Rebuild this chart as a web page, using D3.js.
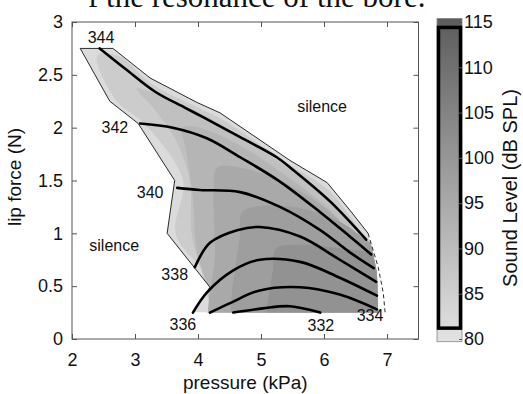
<!DOCTYPE html>
<html><head><meta charset="utf-8">
<script src="https://cdn.jsdelivr.net/npm/d3@7"></script>
<style>
html,body{margin:0;padding:0;background:#fff;}
svg{display:block;font-family:"Liberation Sans",Arial,sans-serif;}
</style></head><body>
<svg id="chart" width="523" height="394"></svg>
<script>
// ---------------- data ----------------
const xTicks = [2, 3, 4, 5, 6, 7];
const yTicks = [0, 0.5, 1, 1.5, 2, 2.5, 3];
const cbTicks = [80, 85, 90, 95, 100, 105, 110, 115];

// playable region (pressure kPa, lip force N)
const region = [[2.13,2.75],[2.65,2.75],[3.24,2.47],[3.98,2.24],[4.35,2.14],[5.46,1.69],[6.05,1.48],[6.41,1.22],[6.70,1.00],[6.76,0.87],[6.84,0.63],[6.86,0.25],[3.92,0.25],[4.19,0.49],[3.51,1.00],[3.63,1.50],[3.05,2.04],[2.60,2.25]];
const outlineSolid = [[3.92,0.25],[4.19,0.49],[3.51,1.00],[3.63,1.50],[3.05,2.04],[2.60,2.25],[2.13,2.75],[2.65,2.75],[3.24,2.47],[3.98,2.24],[4.35,2.14],[5.46,1.69],[6.05,1.48],[6.41,1.22],[6.70,1.00]];
const outlineDashed = [[6.70,1.00],[6.78,0.84],[6.86,0.68],[6.94,0.44],[6.97,0.25]];

// sound level bands (dB SPL)
const bandLevels = [82, 86, 89, 92, 95, 98, 101];
const band86 = [[2.40,2.68],[2.73,2.68],[3.27,2.41],[4.00,2.19],[4.38,2.08],[5.48,1.64],[6.05,1.42],[6.40,1.17],[6.63,0.96],[6.75,0.75],[6.75,0.09],[4.06,0.09],[4.29,0.46],[3.65,0.99],[3.76,1.50],[3.16,2.03],[2.70,2.26]];
const band89 = [[3.03,2.37],[3.24,2.34],[3.63,2.25],[4.19,2.09],[4.83,1.86],[5.46,1.60],[6.10,1.30],[6.54,0.98],[6.81,0.73],[7.13,0.73],[7.13,-0.06],[4.17,-0.06],[4.17,0.37],[3.90,0.99],[3.87,1.50],[3.63,1.90],[3.27,2.20],[3.08,2.32]];
const band92 = [[3.75,2.00],[4.03,2.00],[4.67,1.83],[5.46,1.52],[6.10,1.22],[6.54,0.90],[6.83,0.61],[7.13,0.61],[7.13,-0.06],[4.22,-0.06],[4.22,0.37],[3.98,0.84],[3.92,1.32],[3.81,1.79]];
const band95 = [[4.30,1.62],[4.59,1.63],[5.30,1.50],[6.10,1.20],[6.57,0.86],[6.86,0.54],[7.13,0.54],[7.13,-0.06],[4.29,-0.06],[4.27,0.84],[4.25,1.41]];
const band98 = [[4.70,1.20],[4.98,1.26],[5.62,1.24],[6.25,1.11],[6.81,0.89],[7.13,0.84],[7.13,-0.06],[4.67,-0.06],[4.67,1.01]];
const band101 = [[5.24,0.86],[5.54,0.89],[6.10,0.87],[6.73,0.82],[7.13,0.79],[7.13,-0.06],[5.19,-0.06],[5.19,0.67]];
const bands = [region, band86, band89, band92, band95, band98, band101];

// frequency contours (Hz)
const contourLevels = [344, 342, 340, 338, 336, 334, 332];
const c344 = [[2.44,2.75],[2.84,2.56],[3.32,2.34],[3.79,2.19],[4.11,2.09],[4.67,1.91],[5.25,1.72],[5.51,1.60],[6.10,1.30],[6.67,0.94]];
const c342 = [[3.08,2.04],[3.60,2.00],[4.14,1.90],[4.67,1.72],[5.30,1.49],[5.94,1.20],[6.41,0.97],[6.75,0.80]];
const c340 = [[3.67,1.43],[4.03,1.41],[4.67,1.39],[5.30,1.25],[5.94,1.03],[6.41,0.82],[6.79,0.67]];
const c338 = [[3.95,0.68],[4.19,0.91],[4.62,1.03],[4.98,1.06],[5.62,0.97],[6.25,0.75],[6.83,0.54]];
const c336 = [[3.92,0.25],[4.14,0.44],[4.56,0.65],[4.98,0.75],[5.62,0.73],[6.25,0.58],[6.84,0.41]];
const c334 = [[4.19,0.25],[4.51,0.34],[4.98,0.46],[5.62,0.49],[6.25,0.42],[6.84,0.28]];
const c332 = [[4.56,0.25],[5.03,0.29],[5.46,0.31],[5.94,0.25]];
const contours = [c344, c342, c340, c338, c336, c334, c332];

// label anchors
const contourLabels = [[2.46,2.80,"344"],[2.68,1.95,"342"],[3.24,1.33,"340"],[3.63,0.56,"338"],[3.76,0.085,"336"],[5.95,0.076,"332"],[6.73,0.17,"334"]];
const regionLabels = [[5.97,2.15,"silence"],[2.67,0.83,"silence"]];

// ---------------- drawing ----------------
const svg = d3.select("#chart");
const x = d3.scaleLinear([2, 7.5], [72, 418.5]);
const y = d3.scaleLinear([0, 3], [339, 22]);
const cb = d3.scaleLinear([80, 115], [339, 22]);
const gray = d3.scaleLinear([80, 115], ["#e3e3e3", "#5c5c5c"]);

// caption remnant at top (cropped in the source figure)
svg.append("text").attr("x", 88).attr("y", 7)
  .style("font-family", '"Liberation Serif", "Times New Roman", serif')
  .style("font-size", "31px").attr("fill", "#111")
  .text("f the resonance of the bore.");

const defs = svg.append("defs");
defs.append("clipPath").attr("id", "regionClip")
  .append("path").attr("d", d3.line().x(d => x(d[0])).y(d => y(d[1]))(region) + "Z");

const g = svg.append("g");
const shade = g.append("g").attr("clip-path", "url(#regionClip)");
bands.forEach((b, i) => {
  const gen = i === 0 ? d3.line().x(d => x(d[0])).y(d => y(d[1])).curve(d3.curveLinearClosed)
                      : d3.line().x(d => x(d[0])).y(d => y(d[1])).curve(d3.curveCatmullRomClosed.alpha(0.5));
  shade.append("path").attr("d", gen(b)).attr("fill", gray(bandLevels[i])).attr("stroke", "none");
});

// outline
const lin = d3.line().x(d => x(d[0])).y(d => y(d[1]));
g.append("path").attr("d", lin(outlineSolid)).attr("fill", "none").attr("stroke", "#111").attr("stroke-width", 0.9);
g.append("path").attr("d", lin(outlineDashed)).attr("fill", "none").attr("stroke", "#111").attr("stroke-width", 0.9).attr("stroke-dasharray", "4,3");

// contours
const cline = d3.line().x(d => x(d[0])).y(d => y(d[1])).curve(d3.curveCatmullRom.alpha(0.5));
g.selectAll("path.contour").data(contours).join("path").attr("class", "contour")
  .attr("d", d => cline(d)).attr("fill", "none").attr("stroke", "#000").attr("stroke-width", 2.6)
  .attr("stroke-linecap", "round");

// labels
g.selectAll("text.clab").data(contourLabels).join("text").attr("class", "clab")
  .attr("x", d => x(d[0])).attr("y", d => y(d[1])).attr("text-anchor", "middle")
  .style("font-size", "16px").attr("fill", "#111").text(d => d[2]);
g.selectAll("text.rlab").data(regionLabels).join("text").attr("class", "rlab")
  .attr("x", d => x(d[0])).attr("y", d => y(d[1])).attr("text-anchor", "middle")
  .style("font-size", "16px").attr("fill", "#111").text(d => d[2]);

// axes
const axCol = "#555";
const axBottom = svg.append("g").attr("transform", "translate(0,339)")
  .call(d3.axisBottom(x).tickValues(xTicks).tickFormat(d3.format("d")).tickSizeInner(-5).tickSizeOuter(0).tickPadding(14));
const axLeft = svg.append("g").attr("transform", "translate(72,0)")
  .call(d3.axisLeft(y).tickValues(yTicks).tickFormat(d => d).tickSizeInner(-5).tickSizeOuter(0).tickPadding(9));
const axTop = svg.append("g").attr("transform", "translate(0,22)")
  .call(d3.axisTop(x).tickValues(xTicks).tickFormat("").tickSizeInner(-5).tickSizeOuter(0));
const axRight = svg.append("g").attr("transform", "translate(418.5,0)")
  .call(d3.axisRight(y).tickValues(yTicks).tickFormat("").tickSizeInner(-5).tickSizeOuter(0));
[axBottom, axLeft, axTop, axRight].forEach(a => {
  a.select(".domain").remove();
  a.selectAll("line").attr("stroke", axCol);
  a.selectAll("text").style("font-size", "18px").style("font-family", '"Liberation Sans", Arial, sans-serif').attr("fill", "#111");
});
svg.append("rect").attr("x", x(2)).attr("y", y(3)).attr("width", x(7.5) - x(2)).attr("height", y(0) - y(3))
  .attr("fill", "none").attr("stroke", axCol).attr("stroke-width", 1);

svg.append("text").attr("x", (x(2) + x(7.5)) / 2).attr("y", 389).attr("text-anchor", "middle")
  .style("font-size", "19px").attr("fill", "#111").text("pressure (kPa)");
svg.append("text").attr("transform", "translate(21,177) rotate(-90)").attr("text-anchor", "middle")
  .style("font-size", "19px").attr("fill", "#111").text("lip force (N)");

// colorbar
const grad = defs.append("linearGradient").attr("id", "cbGrad").attr("x1", 0).attr("x2", 0).attr("y1", 1).attr("y2", 0);
grad.append("stop").attr("offset", "0%").attr("stop-color", gray(80));
grad.append("stop").attr("offset", "100%").attr("stop-color", gray(115));
const cbX = 437, cbW = 25;
svg.append("rect").attr("x", cbX).attr("y", cb(115.4)).attr("width", cbW).attr("height", cb(79.7) - cb(115.4))
  .attr("fill", "url(#cbGrad)").attr("stroke", "#888").attr("stroke-width", 0.8);
svg.append("rect").attr("x", cbX + 1.5).attr("y", cb(114.4)).attr("width", cbW - 3).attr("height", cb(81.2) - cb(114.4))
  .attr("fill", "none").attr("stroke", "#000").attr("stroke-width", 3.5);
const cbAxis = svg.append("g").attr("transform", `translate(${cbX + cbW},0)`)
  .call(d3.axisRight(cb).tickValues(cbTicks).tickSizeInner(-3).tickSizeOuter(0).tickPadding(2));
cbAxis.select(".domain").remove();
cbAxis.selectAll("line").attr("stroke", "#555");
cbAxis.selectAll("text").style("font-size", "18px").style("font-family", '"Liberation Sans", Arial, sans-serif').attr("fill", "#111");
svg.append("text").attr("transform", "translate(517,188) rotate(-90)").attr("text-anchor", "middle")
  .style("font-size", "20px").attr("fill", "#111").text("Sound Level (dB SPL)");
</script>
</body></html>
